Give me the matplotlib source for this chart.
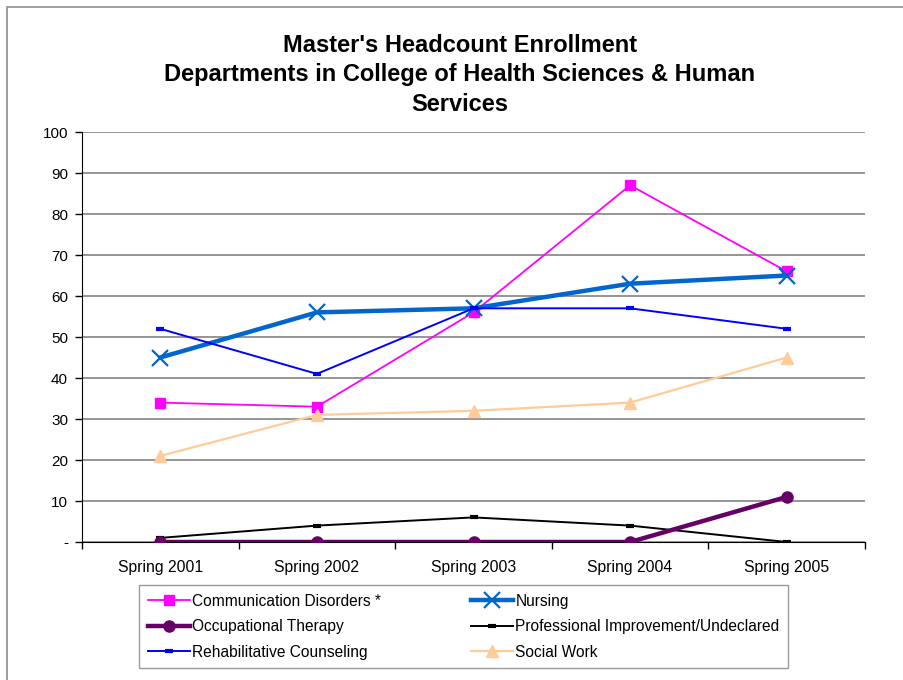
import matplotlib
matplotlib.use("Agg")
import matplotlib.pyplot as plt
from matplotlib.patches import Rectangle
import numpy as np

# ─── Data ────────────────────────────────────────────────────────────────────

terms = ["Spring 2001", "Spring 2002", "Spring 2003", "Spring 2004", "Spring 2005"]

comm_disorders = [34, 33, 56, 87, 66]
nursing        = [45, 56, 57, 63, 65]
occ_therapy    = [0, 0, 0, 0, 11]
prof_improve   = [1, 4, 6, 4, 0]
rehab_counsel  = [52, 41, 57, 57, 52]
social_work    = [21, 31, 32, 34, 45]

y_ticks  = [0, 10, 20, 30, 40, 50, 60, 70, 80, 90, 100]
y_labels = ["-", "10", "20", "30", "40", "50", "60", "70", "80", "90", "100"]

# ─── Figure ──────────────────────────────────────────────────────────────────

plt.rcParams["font.family"] = ["Liberation Sans", "DejaVu Sans"]

W, H = 904, 680
fig = plt.figure(figsize=(W / 100, H / 100), dpi=100, facecolor="white")

# outer chart frame (runs off the right / bottom edge)
fig.patches.append(Rectangle((7 / W, -0.05), 1.1, 1 - 7 / H + 0.05,
                             transform=fig.transFigure, fill=False,
                             edgecolor="#8c8c8c", lw=1.2))

ax = fig.add_axes([82 / W, 1 - 542 / H, (865 - 82) / W, (542 - 132) / H])

x = np.arange(len(terms))

h_cd, = ax.plot(x, comm_disorders, color="#ff00ff", lw=1.3, marker="s", ms=7,
                label="Communication Disorders *", zorder=3)
h_nu, = ax.plot(x, nursing, color="#0066cc", lw=3.2, marker="x", ms=12, mew=1.6,
                label="Nursing", zorder=3)
h_ot, = ax.plot(x, occ_therapy, color="#660066", lw=3.2, marker="o", ms=8,
                label="Occupational Therapy", zorder=4)
h_pi, = ax.plot(x, prof_improve, color="black", lw=1.4, marker="_", ms=6, mew=3,
                label="Professional Improvement/Undeclared", zorder=3)
h_rc, = ax.plot(x, rehab_counsel, color="#0000ff", lw=1.4, marker="_", ms=6, mew=3,
                label="Rehabilitative Counseling", zorder=3)
h_sw, = ax.plot(x, social_work, color="#ffcc99", lw=1.6, marker="^", ms=8,
                label="Social Work", zorder=3)

ax.set_xlim(-0.5, len(terms) - 0.5)
ax.set_ylim(0, 100)

ax.set_yticks(y_ticks)
ax.set_yticklabels(y_labels, fontsize=11)
ax.yaxis.grid(True, color="#8c8c8c", lw=1.3)
ax.set_axisbelow(True)

# category labels centred, tick marks on the boundaries (Excel style)
ax.set_xticks(x)
ax.set_xticklabels(terms, fontsize=11.3)
ax.tick_params(axis="x", length=0, pad=13)
ax.set_xticks(np.arange(-0.5, len(terms)), minor=True)
ax.tick_params(axis="x", which="minor", length=5, width=1, direction="out")
ax.tick_params(axis="y", length=5, width=1, direction="out", pad=5)

for side in ["top", "right"]:
    ax.spines[side].set_visible(False)
ax.spines["left"].set_color("black")
ax.spines["bottom"].set_color("black")

fig.text(460 / W, 1 - 75 / H,
         "Master's Headcount Enrollment\n"
         "Departments in College of Health Sciences & Human\n"
         "Services",
         ha="center", va="center", fontsize=17, fontweight="bold",
         linespacing=1.38)

# legend fills row-wise in the reference, matplotlib fills by column
handles = [h_cd, h_ot, h_rc, h_nu, h_pi, h_sw]
leg = fig.legend(handles=handles, labels=[h.get_label() for h in handles],
                 loc="upper left", ncol=2,
                 bbox_to_anchor=(139 / W, 1 - 585 / H),
                 fontsize=11.2, frameon=True, fancybox=False,
                 edgecolor="#808080", handlelength=2.7, handletextpad=0.15,
                 borderaxespad=0, labelspacing=0.68, borderpad=0.55,
                 columnspacing=5.8)
leg.get_frame().set_linewidth(1.0)

plt.savefig("out.png", dpi=100, facecolor="white")
